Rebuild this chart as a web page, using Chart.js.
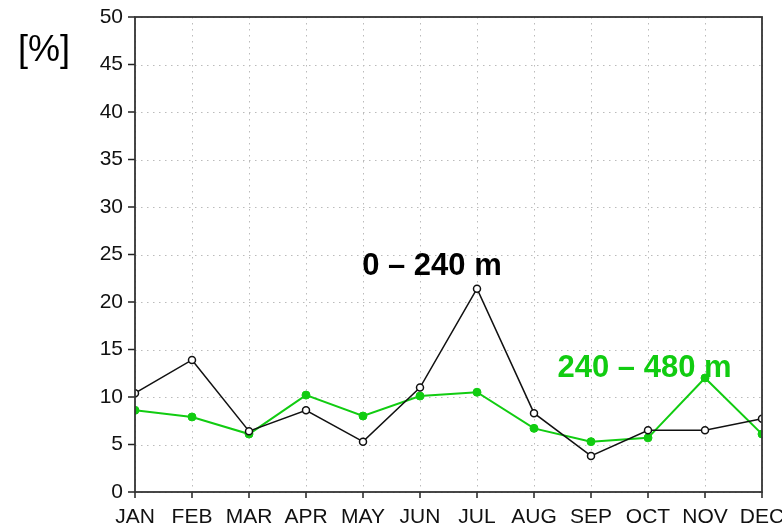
<!DOCTYPE html>
<html>
<head>
<meta charset="utf-8">
<script src="https://cdn.jsdelivr.net/npm/chart.js@4"></script>
<style>
  html, body { margin: 0; padding: 0; background: #fff; }
  #wrap { width: 782px; height: 523px; position: relative; }
</style>
</head>
<body>
<div id="wrap"><canvas id="depthChart" width="782" height="523"></canvas></div>
<script>
const months = ['JAN', 'FEB', 'MAR', 'APR', 'MAY', 'JUN', 'JUL', 'AUG', 'SEP', 'OCT', 'NOV', 'DEC'];
const shallow = [10.4, 13.9, 6.4, 8.6, 5.3, 11.0, 21.4, 8.3, 3.8, 6.5, 6.5, 7.7];   // 0 - 240 m
const deep = [8.6, 7.9, 6.1, 10.2, 8.0, 10.1, 10.5, 6.7, 5.3, 5.7, 12.0, 6.1];      // 240 - 480 m
const yTicks = [0, 5, 10, 15, 20, 25, 30, 35, 40, 45, 50];

const GREEN = '#11cc11';
const tickFont = { family: "'Liberation Sans', Arial, sans-serif", size: 21 };

// in-plot series labels, placed in data units
const seriesLabels = [
    { text: '0 \u2013 240 m', x: 5.21, y: 22.8, color: '#000' },
    { text: '240 \u2013 480 m', x: 8.94, y: 12.1, color: GREEN }
];

// dotted grid, outward tick marks and the closed frame
const framePlugin = {
    id: 'frame',
    beforeDatasetsDraw(chart) {
        const { ctx, chartArea: a, scales: { x, y } } = chart;
        ctx.save();
        ctx.strokeStyle = '#bbb';
        ctx.lineWidth = 1;
        ctx.setLineDash([1.5, 4.5]);
        ctx.beginPath();
        months.forEach((m, i) => {
            const px = Math.round(x.getPixelForValue(i)) + 0.5;
            ctx.moveTo(px, a.top); ctx.lineTo(px, a.bottom);
        });
        yTicks.forEach(v => {
            const py = Math.round(y.getPixelForValue(v)) + 0.5;
            ctx.moveTo(a.left, py); ctx.lineTo(a.right, py);
        });
        ctx.stroke();
        ctx.restore();
    },
    afterDatasetsDraw(chart) {
        const { ctx, chartArea: a, scales: { x, y } } = chart;
        ctx.save();
        ctx.strokeStyle = '#222';
        ctx.lineWidth = 1.5;
        ctx.beginPath();
        months.forEach((m, i) => {
            const px = x.getPixelForValue(i);
            ctx.moveTo(px, a.bottom); ctx.lineTo(px, a.bottom + 6);
        });
        yTicks.forEach(v => {
            const py = y.getPixelForValue(v);
            ctx.moveTo(a.left - 7, py); ctx.lineTo(a.left, py);
        });
        ctx.stroke();
        ctx.strokeStyle = '#333';
        ctx.lineWidth = 1.8;
        ctx.strokeRect(a.left, a.top, a.right - a.left, a.bottom - a.top);

        ctx.font = "36px 'Liberation Sans', Arial, sans-serif";
        ctx.fillStyle = '#000';
        ctx.textAlign = 'left';
        ctx.textBaseline = 'alphabetic';
        ctx.fillText('[%]', 18, 61);

        ctx.font = "bold 31px 'Liberation Sans', Arial, sans-serif";
        ctx.textAlign = 'center';
        seriesLabels.forEach(l => {
            ctx.fillStyle = l.color;
            ctx.fillText(l.text, x.getPixelForValue(l.x), y.getPixelForValue(l.y));
        });
        ctx.restore();
    }
};

new Chart(document.getElementById('depthChart').getContext('2d'), {
    type: 'line',
    data: {
        labels: months,
        datasets: [{
            label: '0 - 240 m',
            data: shallow,
            borderColor: '#111',
            borderWidth: 1.5,
            pointRadius: 3.5,
            pointBackgroundColor: '#fff',
            pointBorderColor: '#111',
            pointBorderWidth: 1.5,
            tension: 0,
            clip: 0
        }, {
            label: '240 - 480 m',
            data: deep,
            borderColor: GREEN,
            borderWidth: 2,
            pointRadius: 4,
            pointBackgroundColor: GREEN,
            pointBorderColor: GREEN,
            pointBorderWidth: 1,
            tension: 0,
            clip: 0
        }]
    },
    options: {
        responsive: false,
        animation: false,
        layout: { padding: { top: 17, right: 20, left: 0, bottom: 0 } },
        plugins: { legend: { display: false }, tooltip: { enabled: false } },
        scales: {
            x: {
                offset: false,
                grid: { display: false, drawTicks: false },
                border: { display: false },
                ticks: { color: '#111', font: tickFont, padding: 13, maxRotation: 0, autoSkip: false },
                afterFit(s) { s.height = 31; s.paddingLeft = 0; s.paddingRight = 0; }
            },
            y: {
                min: 0,
                max: 50,
                grid: { display: false, drawTicks: false },
                border: { display: false },
                ticks: { color: '#111', font: tickFont, padding: 12, stepSize: 5 },
                afterFit(s) { s.width = 135; s.paddingTop = 0; s.paddingBottom = 0; }
            }
        }
    },
    plugins: [framePlugin]
});
</script>
</body>
</html>
